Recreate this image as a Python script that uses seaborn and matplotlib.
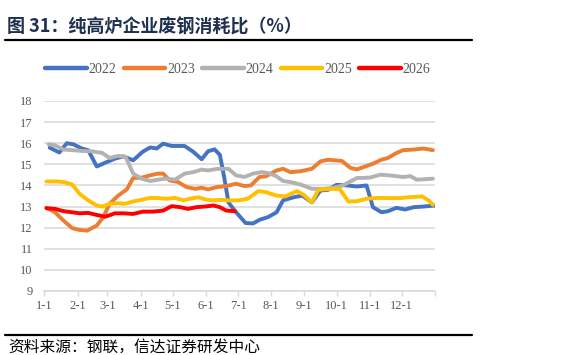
import pandas as pd
import matplotlib
matplotlib.use("Agg")
import matplotlib.pyplot as plt
import seaborn as sns

# --- data (x = day of year, y = scrap consumption ratio %) ---
days_2022 = [5, 14, 21, 27, 35, 41, 49, 58, 66, 74, 83, 92, 99, 105, 111, 119, 131, 139,
             147, 153, 159, 164, 168, 172, 178, 188, 195, 201, 209, 217, 223, 233, 241,
             250, 258, 265, 273, 283, 292, 301, 307, 315, 321, 329, 337, 345, 354, 365]
vals_2022 = [15.79, 15.56, 16.0, 15.95, 15.75, 15.67, 14.9, 15.1, 15.27, 15.38, 15.19, 15.6,
             15.8, 15.75, 15.98, 15.87, 15.87, 15.6, 15.24, 15.62, 15.71, 15.45, 14.4, 13.2,
             12.8, 12.22, 12.2, 12.37, 12.5, 12.73, 13.29, 13.44, 13.52, 13.2, 13.76, 13.79,
             14.03, 14.0, 13.95, 14.0, 12.97, 12.73, 12.78, 12.94, 12.86, 12.97, 13.0, 13.05]

days_2023 = [2, 10, 18, 26, 33, 40, 49, 55, 61, 69, 77, 83, 91, 99, 106, 111, 117, 125,
             133, 141, 147, 153, 161, 170, 179, 187, 193, 201, 207, 217, 223, 230, 239,
             250, 258, 265, 278, 286, 292, 300, 307, 315, 321, 328, 335, 345, 354, 363]
vals_2023 = [12.94, 12.73, 12.33, 11.98, 11.89, 11.86, 12.1, 12.49, 13.13, 13.52, 13.81,
             14.35, 14.37, 14.48, 14.56, 14.56, 14.24, 14.16, 13.92, 13.84, 13.89, 13.81,
             13.92, 13.97, 14.08, 13.97, 14.0, 14.4, 14.43, 14.71, 14.79, 14.63, 14.67,
             14.79, 15.14, 15.22, 15.16, 14.83, 14.76, 14.9, 15.03, 15.22, 15.3, 15.51,
             15.67, 15.7, 15.75, 15.67]

days_2024 = [4, 10, 18, 27, 36, 44, 54, 61, 69, 76, 83, 91, 99, 106, 114, 122, 131, 139,
             147, 153, 161, 172, 179, 187, 195, 203, 209, 217, 223, 230, 239, 250, 261,
             270, 279, 292, 304, 314, 326, 335, 342, 348, 354, 363]
vals_2024 = [15.95, 15.9, 15.7, 15.67, 15.63, 15.62, 15.54, 15.3, 15.4, 15.35, 14.56, 14.32,
             14.21, 14.27, 14.33, 14.27, 14.56, 14.63, 14.75, 14.71, 14.78, 14.79, 14.48,
             14.4, 14.56, 14.63, 14.59, 14.43, 14.21, 14.16, 14.05, 13.84, 13.84, 13.89,
             14.0, 14.35, 14.37, 14.51, 14.46, 14.4, 14.44, 14.27, 14.29, 14.32]

days_2025 = [2, 12, 18, 26, 33, 41, 49, 54, 61, 69, 75, 83, 91, 99, 106, 114, 122, 130,
             136, 144, 151, 158, 165, 173, 181, 190, 200, 207, 217, 225, 236, 242, 250,
             256, 267, 276, 284, 292, 301, 312, 323, 332, 340, 353, 359, 363]
vals_2025 = [14.19, 14.19, 14.16, 14.05, 13.6, 13.29, 13.05, 13.0, 13.13, 13.16, 13.13,
             13.24, 13.32, 13.41, 13.4, 13.37, 13.41, 13.29, 13.37, 13.44, 13.33, 13.29,
             13.32, 13.29, 13.29, 13.37, 13.73, 13.68, 13.52, 13.48, 13.73, 13.57, 13.2,
             13.79, 13.84, 13.83, 13.24, 13.25, 13.37, 13.41, 13.4, 13.4, 13.44, 13.48,
             13.29, 13.08]

days_2026 = [2, 10, 18, 26, 33, 41, 49, 57, 66, 74, 83, 92, 102, 111, 119, 127, 134, 142,
             150, 158, 164, 170, 178]
vals_2026 = [12.92, 12.89, 12.78, 12.73, 12.68, 12.7, 12.6, 12.52, 12.68, 12.68, 12.65,
             12.76, 12.76, 12.81, 13.02, 12.97, 12.89, 12.97, 13.0, 13.05, 12.97, 12.81, 12.78]

years = ["2022", "2023", "2024", "2025", "2026"]
colors = ["#4472C4", "#ED7D31", "#B2B2B2", "#FFC000", "#FF0000"]

month_days = [0, 31, 59, 90, 120, 151, 181, 212, 243, 273, 304, 334, 365]
month_labels = ["1-1", "2-1", "3-1", "4-1", "5-1", "6-1", "7-1", "8-1", "9-1",
                "10-1", "11-1", "12-1"]

series = {
    "2022": (days_2022, vals_2022),
    "2023": (days_2023, vals_2023),
    "2024": (days_2024, vals_2024),
    "2025": (days_2025, vals_2025),
    "2026": (days_2026, vals_2026),
}
frames = [pd.DataFrame({"day": d, "value": v, "year": y}) for y, (d, v) in series.items()]
df = pd.concat(frames, ignore_index=True)

sns.set_theme(style="white")
plt.rcParams["font.family"] = ["Liberation Serif", "Noto Sans CJK SC", "DejaVu Sans"]

fig = plt.figure(figsize=(5.66, 3.55), dpi=100)
ax = fig.add_axes([0.0783, 0.1803, 0.6903, 0.5352])

sns.lineplot(data=df, x="day", y="value", hue="year", hue_order=years,
             palette=dict(zip(years, colors)), estimator=None, linewidth=2.8,
             ax=ax, legend=True)
for line in ax.get_lines():
    line.set_solid_capstyle("round")
    line.set_solid_joinstyle("round")

handles, labels = ax.get_legend_handles_labels()
ax.get_legend().remove()

ax.set_xlim(0, 365)
ax.set_ylim(9, 18)
ax.set_yticks(range(9, 19))
ax.set_xticks(month_days)
ax.set_xticklabels(month_labels + [""])
ax.set_xlabel("")
ax.set_ylabel("")
ax.grid(axis="y", color="#D9D9D9", linewidth=1.1)
ax.set_axisbelow(True)
for side in ["top", "right", "left"]:
    ax.spines[side].set_visible(False)
ax.spines["bottom"].set_color("#D9D9D9")
ax.spines["bottom"].set_linewidth(1.1)
ax.tick_params(axis="y", length=0, pad=8.5, labelsize=9, labelcolor="#595959")
ax.tick_params(axis="x", bottom=True, length=3.5, width=1, color="#D9D9D9", pad=3,
               labelsize=9, labelcolor="#595959")

for h in handles:
    h.set_linewidth(3.2)
    h.set_solid_capstyle("round")
fig.legend(handles, labels, loc="center", bbox_to_anchor=(0.42, 0.805), ncol=5,
           frameon=False, fontsize=10, handlelength=3.0, handletextpad=0.15,
           columnspacing=0.5, labelcolor="#595959")

# title, rules and source
fig.text(0.012, 0.924, "图 31：纯高炉企业废钢消耗比（%）", fontsize=13, fontweight="bold",
         color="#1F3050", family=["Noto Sans CJK SC", "DejaVu Sans"], va="center", ha="left")
fig.add_artist(plt.Line2D([0.009, 0.834], [0.887, 0.887], color="black", linewidth=1.6))
fig.add_artist(plt.Line2D([0.009, 0.834], [0.057, 0.057], color="black", linewidth=1.6))
fig.text(0.014, 0.023, "资料来源：钢联，信达证券研发中心", fontsize=11.3, color="black",
         family=["Noto Sans CJK SC", "DejaVu Sans"], va="center", ha="left")

fig.savefig("out.png", dpi=100)
